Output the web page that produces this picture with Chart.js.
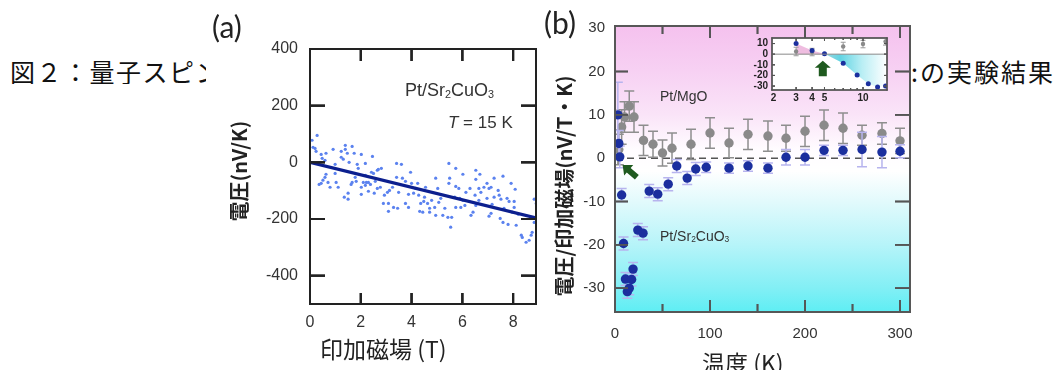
<!DOCTYPE html>
<html><head><meta charset="utf-8">
<script src="https://cdn.jsdelivr.net/npm/chart.js@4.4.1/dist/chart.umd.min.js"></script>
<style>
html,body{margin:0;padding:0;background:#fff;width:1057px;height:370px;overflow:hidden;}
body{position:relative;font-family:"Noto Sans CJK JP","Noto Sans",sans-serif;color:#222;}
.abs{position:absolute;white-space:nowrap;line-height:1;}
.rot{position:absolute;white-space:nowrap;line-height:1;transform:translate(-50%,-50%) rotate(-90deg);font-weight:bold;}
.lat{font-family:"Liberation Sans",Arial,sans-serif;color:#333;}
canvas{position:absolute;}
sub{font-size:60%;vertical-align:-0.15em;line-height:0;}
</style></head><body>
<div class="abs" style="left:10px;top:59px;width:196px;overflow:hidden;font-size:25px;letter-spacing:1.5px;color:#111">図２：量子スピン</div>
<div class="abs" style="left:911px;top:59px;font-size:25px;letter-spacing:2px;color:#111">:の実験結果</div>

<canvas id="ca" width="330" height="330" style="left:220px;top:40px;width:330px;height:330px"></canvas>
<canvas id="cb" width="360" height="354" style="left:560px;top:16px;width:360px;height:354px"></canvas>
<canvas id="cc" width="160" height="76" style="left:735px;top:32px;width:160px;height:76px"></canvas>

<div class="abs" style="left:212px;top:11px;font-size:30px;font-family:Lato,'Open Sans',sans-serif;color:#222">(a)</div>
<div class="abs" style="left:544px;top:7px;font-size:30px;font-family:Lato,'Open Sans',sans-serif;color:#222">(b)</div>
<div class="rot" style="left:239px;top:171px;font-size:20px;">電圧(nV/K)</div>
<div class="rot" style="left:564px;top:186px;font-size:20px;">電圧/印加磁場(nV/T・K)</div>
<div class="abs" style="left:320px;top:337px;font-size:23px;">印加磁場 (T)</div>
<div class="abs" style="left:702px;top:351px;font-size:23px;">温度 (K)</div>
<div class="abs lat" style="left:405px;top:81px;font-size:18px;">Pt/Sr<sub>2</sub>CuO<sub>3</sub></div>
<div class="abs lat" style="left:448px;top:114px;font-size:17px;"><i>T</i> = 15 K</div>
<div class="abs lat" style="left:660px;top:89px;font-size:14px;">Pt/MgO</div>
<div class="abs lat" style="left:660px;top:229px;font-size:14px;">Pt/Sr<sub>2</sub>CuO<sub>3</sub></div>

<script>
// ---------- Panel (a): voltage vs applied field at T = 15 K ----------
const aField = [0.08,0.28,0.12,0.2,0.24,0.44,0.48,0.63,0.59,0.91,1.23,1.39,1.39,1.66,1.47,1.74,1.23,1.31,1.54,2.02,1.86,2.18,0.99,0.63,0.59,0.51,0.36,0.44,0.71,0.79,1.03,1.11,0.99,1.62,1.66,1.82,2.02,2.1,2.22,2.02,1.5,1.35,1.5,1.9,2.18,1.78,
 2.46,2.42,2.5,2.65,2.69,2.81,2.3,2.38,2.57,2.65,2.77,2.53,2.93,3.05,3.13,2.89,3.09,3.09,3.29,3.45,3.25,3.49,3.41,3.6,3.41,3.64,3.76,3.96,4.0,3.88,4.24,4.08,4.28,3.76,3.88,4.36,4.48,4.32,4.44,4.16,2.18,2.3,
 5.47,5.74,4.95,5.5,6.02,6.53,6.53,6.69,4.55,5.03,5.47,5.74,5.86,6.3,6.14,6.5,6.65,4.51,4.63,4.79,4.71,4.91,5.07,5.15,5.31,5.23,5.43,5.58,5.54,5.74,5.94,6.1,6.02,6.34,6.42,6.53,4.71,4.95,5.7,5.9,
 7.25,7.6,6.85,6.97,7.05,7.13,7.41,7.92,8.08,6.73,6.65,6.97,7.25,7.45,7.52,7.76,7.84,8.04,7.17,7.13,7.05,7.49,7.6,7.8,7.64,8.04,8.12,8.32,8.36,8.51,8.63,8.71,8.75,8.83,8.91,8.83,8.2,7.96];
const aVolt = [78,95,53,49,39,28,14,32,7,46,39,60,46,56,32,32,18,11,0,28,-7,-4,-7,-42,-53,-63,-78,-74,-71,-88,-71,-88,-39,-78,-71,-67,-88,-71,-71,-113,-109,-123,-130,-21,-46,-53,
 21,-35,-39,-28,-25,-21,-71,-78,-67,-92,-88,-109,-116,-106,-99,-145,-145,-173,-159,-162,-88,-106,-4,-7,-53,-56,-67,-35,-74,-113,-74,-109,-116,-145,-159,-145,-138,-173,-176,-92,-81,-102,
 -4,-21,-56,-56,-42,-28,-60,-42,-88,-92,-74,-85,-92,-92,-106,-116,-92,-123,-145,-134,-162,-159,-141,-127,-162,-187,-194,-194,-229,-159,-159,-152,-134,-187,-176,-152,-176,-187,-123,-127,
 -56,-49,-88,-74,-92,-88,-99,-74,-95,-106,-134,-127,-123,-116,-130,-127,-138,-138,-148,-180,-190,-198,-212,-219,-162,-159,-222,-257,-265,-282,-275,-257,-247,-130,-145,-212,-183,-176];
const aFitField = [0, 8.9];
const aFitVolt = [0, -196];
const aXTicks = [0, 2, 4, 6, 8];
const aYTicks = [-400, -200, 0, 200, 400];

// ---------- Panel (b): voltage / field vs temperature ----------
const bSrTemp = [3,4,5,7,9,11,13,15,17.5,19,24,29.5,36,45,56,65,76,85,96,120,140,161,180,200,220,240,260,281,300];
const bSrVal  = [10,3.4,0.3,-8.5,-19.7,-27.9,-30.8,-30,-28,-25.6,-16.6,-17.3,-7.6,-8.3,-6,-1.8,-4.6,-2.5,-2.1,-2.3,-1.8,-2.3,0.2,0.2,1.8,1.8,2,1.4,1.6];
const bSrErr  = [7.5,3,2.5,1.5,1.5,1.5,1.5,1.5,1.5,1.5,1.5,1.5,1.5,1.5,1.5,1.5,1.5,1.5,1.2,1.2,1.2,1.2,1.8,1.8,1.2,1.2,4,3.6,1.5];
const bMgTemp = [3,4,7,10,15,20,30,40,50,60,80,100,120,140,161,180,200,220,240,260,281,300];
const bMgVal  = [2.5,2,7.2,9.5,12,9.5,4.1,3.2,1.2,2.3,3.2,5.8,3.5,5.5,5.1,4.6,6.2,7.6,6.9,5.3,5.7,4];
const bMgErr  = [4,3.5,4,3.5,3.5,3.5,3.5,3,3,3.5,3.5,3.5,3.4,3.5,3.5,3,3.5,3.5,3.5,2.3,2.5,2.9];
const bXTicks = [0, 100, 200, 300];
const bXMinor = [50, 150, 250];
const bYTicks = [-30, -20, -10, 0, 10, 20, 30];
const bArrow = [[23, -4.4], [8, -1.6]];

// ---------- Inset (log temperature) ----------
const insetMaxT = 15.4;
const insetXTicks = [2, 3, 4, 5, 10];
const insetXMinor = [6, 7, 8, 9];
const insetYTicks = [-30, -20, -10, 0, 10];
const insetSplitT = 5;
const insetArrow = [[4.85, -20.7], [4.85, -6.2]];

const pts = (xs, ys) => xs.map((v, i) => ({x: v, y: ys[i]}));
const TICKFONT = "'Liberation Sans', Arial, sans-serif";

const FRAME = {
  ca: {color: '#222222', width: 2, yMarks: [-400, -200, 0, 200], yLen: [15, 15], xMarks: [2, 4, 6, 8], xLen: [11, 12]},
  cb: {color: '#555555', width: 1.5,
       bgStops: [[30.5, '#f5c1ee'], [20, '#f7d1f3'], [10, '#fae4f8'], [2, '#fffcff'], [-3, '#ffffff'], [-10, '#e2fafc'], [-20, '#b6f4f9'], [-30, '#82eff5'], [-35.5, '#5eeef4']],
       zeroDash: [7, 5], zeroColor: '#555555', zeroWidth: 1.5,
       arrow: {pts: bArrow, color: '#1f5a1f', shaft: 6, head: 14, headLen: 8},
       yMarks: [-30, -20, -10, 10, 20], yLen: [13, 15], xMarks: [100, 200, 300], xLen: [12, 12], xMinor: bXMinor, xMinorLen: 8},
  cc: {color: '#555555', width: 1, bg: '#ffffff', zeroSolid: '#8a8a8a',
       arrow: {pts: insetArrow, color: '#1f5a1f', shaft: 8, head: 16, headLen: 7},
       yMarks: insetYTicks, yLen: [3, 3], xMarks: [3, 4, 5, 10], xLen: [3, 3], xMinor: insetXMinor, xMinorLen: 2}
};

function paintBox(c) {
  const o = FRAME[c.canvas.id]; if (!o) return;
  const ctx = c.ctx, a = c.chartArea, sx = c.scales.x, sy = c.scales.y;
  const lw = o.width, hw = lw / 2;
  ctx.save();
  ctx.fillStyle = o.color;
  ctx.fillRect(a.left - hw, a.top - hw, a.right - a.left + lw, lw);
  ctx.fillRect(a.left - hw, a.bottom - hw, a.right - a.left + lw, lw);
  ctx.fillRect(a.left - hw, a.top - hw, lw, a.bottom - a.top + lw);
  ctx.fillRect(a.right - hw, a.top - hw, lw, a.bottom - a.top + lw);
  o.yMarks.forEach(v => {
    const py = sy.getPixelForValue(v);
    ctx.fillRect(a.left, py - hw, o.yLen[0], lw);
    ctx.fillRect(a.right - o.yLen[1], py - hw, o.yLen[1], lw);
  });
  o.xMarks.forEach(v => {
    const px = sx.getPixelForValue(v);
    ctx.fillRect(px - hw, a.bottom - o.xLen[0], lw, o.xLen[0]);
    ctx.fillRect(px - hw, a.top, lw, o.xLen[1]);
  });
  (o.xMinor || []).forEach(v => {
    const px = sx.getPixelForValue(v);
    ctx.fillRect(px - hw, a.bottom - o.xMinorLen, lw, o.xMinorLen);
    ctx.fillRect(px - hw, a.top, lw, o.xMinorLen);
  });
  ctx.restore();
}

const bgPlugin = {
  id: 'bgp',
  beforeDraw(c) {
    const o = FRAME[c.canvas.id]; if (!o || !c.chartArea) return;
    if (!o.bgStops && !o.bg) return;
    const {ctx, chartArea: a} = c, y = c.scales.y;
    ctx.save();
    if (o.bgStops) {
      const g = ctx.createLinearGradient(0, a.top, 0, a.bottom);
      o.bgStops.forEach(([v, col]) => {
        const t = (y.getPixelForValue(v) - a.top) / (a.bottom - a.top);
        g.addColorStop(Math.min(1, Math.max(0, t)), col);
      });
      ctx.fillStyle = g;
    } else ctx.fillStyle = o.bg;
    ctx.fillRect(a.left, a.top, a.right - a.left, a.bottom - a.top);
    ctx.restore();
  }
};
const zeroPlugin = {
  id: 'zerop',
  beforeDatasetsDraw(c) {
    const o = FRAME[c.canvas.id]; if (!o) return;
    const {ctx, chartArea: a} = c;
    if (o.zeroDash) {
      const py = c.scales.y.getPixelForValue(0);
      ctx.save(); ctx.strokeStyle = o.zeroColor; ctx.lineWidth = o.zeroWidth; ctx.setLineDash(o.zeroDash);
      ctx.beginPath(); ctx.moveTo(a.left, py); ctx.lineTo(a.right, py); ctx.stroke(); ctx.restore();
    }
    paintBox(c);
  }
};
const errPlugin = {
  id: 'errp',
  beforeDatasetDraw(c, args) {
    const ds = c.data.datasets[args.index];
    if (!ds.errors) return;
    const {ctx, chartArea: a} = c, x = c.scales.x, y = c.scales.y;
    ctx.save();
    ctx.beginPath(); ctx.rect(a.left, a.top, a.right - a.left, a.bottom - a.top); ctx.clip();
    ctx.strokeStyle = ds.errorColor; ctx.lineWidth = ds.errorWidth;
    ctx.beginPath();
    ds.data.forEach((p, i) => {
      const e = ds.errors[i]; const px = x.getPixelForValue(p.x);
      const y1 = y.getPixelForValue(p.y + e), y2 = y.getPixelForValue(p.y - e);
      ctx.moveTo(px, y1); ctx.lineTo(px, y2);
      ctx.moveTo(px - ds.capHalf, y1); ctx.lineTo(px + ds.capHalf, y1);
      ctx.moveTo(px - ds.capHalf, y2); ctx.lineTo(px + ds.capHalf, y2);
    });
    ctx.stroke(); ctx.restore();
  }
};
const markPlugin = {
  id: 'markp',
  afterDatasetsDraw(c) {
    const o = FRAME[c.canvas.id]; if (!o) return;
    paintBox(c);
    const ctx = c.ctx, a = c.chartArea, sx = c.scales.x, sy = c.scales.y;
    ctx.save();
    if (o.zeroSolid) {
      ctx.fillStyle = o.zeroSolid;
      ctx.fillRect(a.left, sy.getPixelForValue(0) - 0.5, a.right - a.left, 1);
    }
    if (o.arrow) {
      const [[tx, ty], [hx, hy]] = o.arrow.pts;
      const x0 = sx.getPixelForValue(tx), y0 = sy.getPixelForValue(ty);
      const x1 = sx.getPixelForValue(hx), y1 = sy.getPixelForValue(hy);
      const ang = Math.atan2(y1 - y0, x1 - x0), len = Math.hypot(x1 - x0, y1 - y0);
      const sh = o.arrow.shaft, hd = o.arrow.head, hl = o.arrow.headLen;
      ctx.translate(x0, y0); ctx.rotate(ang);
      ctx.fillStyle = o.arrow.color;
      ctx.beginPath();
      ctx.moveTo(0, -sh / 2); ctx.lineTo(len - hl, -sh / 2); ctx.lineTo(len - hl, -hd / 2);
      ctx.lineTo(len, 0); ctx.lineTo(len - hl, hd / 2); ctx.lineTo(len - hl, sh / 2); ctx.lineTo(0, sh / 2);
      ctx.closePath(); ctx.fill();
    }
    ctx.restore();
  },
  afterDraw(c) { paintBox(c); }
};

function axis(opts) {
  const {type, min, max, ticks, fit, isX, pad, font, color} = opts;
  return {
    type: type || 'linear', min, max,
    afterBuildTicks: s => { s.ticks = ticks.map(v => ({value: v})); },
    afterFit: s => {
      if (isX) s.height = fit; else s.width = fit;
      s.paddingTop = 0; s.paddingBottom = 0; s.paddingLeft = 0; s.paddingRight = 0;
    },
    grid: {display: false, drawTicks: false},
    border: {display: false},
    ticks: {padding: pad, font, color, autoSkip: false, maxRotation: 0, callback: v => String(v)}
  };
}
const PLUGS = [bgPlugin, zeroPlugin, errPlugin, markPlugin];

// ----- Chart (a)
new Chart(document.getElementById('ca'), {
  type: 'scatter',
  plugins: PLUGS,
  data: {datasets: [
    {data: pts(aFitField, aFitVolt), showLine: true, borderColor: '#0c1f8e', borderWidth: 3.2, pointRadius: 0, order: 0},
    {data: pts(aField, aVolt), pointRadius: 1.6, backgroundColor: '#5b82ef', borderWidth: 0, order: 1}
  ]},
  options: {responsive: false, animation: false, devicePixelRatio: 1,
    layout: {padding: {top: 9, right: 14, left: 0, bottom: 0}},
    plugins: {legend: {display: false}, tooltip: {enabled: false}},
    scales: {
      x: axis({min: 0, max: 8.9, ticks: aXTicks, fit: 66, isX: true, pad: 9, font: {family: TICKFONT, size: 16}, color: '#333'}),
      y: axis({min: -500, max: 400, ticks: aYTicks, fit: 90, pad: 12, font: {family: TICKFONT, size: 16}, color: '#333'})
    }
  }
});

// ----- Chart (b)
new Chart(document.getElementById('cb'), {
  type: 'scatter',
  plugins: PLUGS,
  data: {datasets: [
    {data: pts(bSrTemp, bSrVal), errors: bSrErr, errorColor: '#b7b4ee', errorWidth: 1.5, capHalf: 5,
     pointRadius: 4.7, backgroundColor: '#1b2f9e', borderWidth: 0, order: 0},
    {data: pts(bMgTemp, bMgVal), errors: bMgErr, errorColor: '#8e8e8e', errorWidth: 1.5, capHalf: 5,
     pointRadius: 4.7, backgroundColor: '#8a8a8a', borderWidth: 0, order: 1}
  ]},
  options: {responsive: false, animation: false, devicePixelRatio: 1,
    layout: {padding: {top: 10, right: 10, left: 0, bottom: 0}},
    plugins: {legend: {display: false}, tooltip: {enabled: false}},
    scales: {
      x: axis({min: 0, max: 310.5, ticks: bXTicks, fit: 58, isX: true, pad: 13, font: {family: TICKFONT, size: 15}, color: '#333'}),
      y: axis({min: -35.5, max: 30.5, ticks: bYTicks, fit: 55, pad: 10, font: {family: TICKFONT, size: 15}, color: '#333'})
    }
  }
});

// ----- Inset
const inBlueT = bSrTemp.filter(t => t <= insetMaxT);
const inBlueV = bSrVal.slice(0, inBlueT.length);
const inGrayT = bMgTemp.filter(t => t <= insetMaxT);
const inGrayV = bMgVal.slice(0, inGrayT.length);
const inGrayE = bMgErr.slice(0, inGrayT.length);
const pinkIdx = inBlueT.map((t, i) => t <= insetSplitT ? i : -1).filter(i => i >= 0);
const cyanIdx = inBlueT.map((t, i) => t >= insetSplitT ? i : -1).filter(i => i >= 0);

new Chart(document.getElementById('cc'), {
  type: 'scatter',
  plugins: PLUGS,
  data: {datasets: [
    {data: pts(inBlueT, inBlueV), pointRadius: 2.5, backgroundColor: '#1b2f9e', borderWidth: 0, order: 0},
    {data: pts(inGrayT, inGrayV), errors: inGrayE, errorColor: '#9a9a9a', errorWidth: 1, capHalf: 2.5,
     pointRadius: 2.2, backgroundColor: '#8a8a8a', borderWidth: 0, order: 1},
    {data: pinkIdx.map(i => ({x: inBlueT[i], y: inBlueV[i]})), showLine: true, fill: 'origin', borderWidth: 0, pointRadius: 0,
     backgroundColor: 'rgba(236,178,218,0.85)', order: 5},
    {data: cyanIdx.map(i => ({x: inBlueT[i], y: inBlueV[i]})), showLine: true, fill: 'origin', borderWidth: 0, pointRadius: 0, order: 6,
     backgroundColor: (ctx) => {
       const c = ctx.chart, a = c.chartArea; if (!a) return 'transparent';
       const g = c.ctx.createLinearGradient(c.scales.x.getPixelForValue(insetSplitT), 0, a.right, 0);
       g.addColorStop(0, '#9fd6de'); g.addColorStop(0.25, '#62d4e3'); g.addColorStop(0.6, '#b9eef4'); g.addColorStop(1, '#ffffff');
       return g;
     }}
  ]},
  options: {responsive: false, animation: false, devicePixelRatio: 1,
    layout: {padding: {top: 6, right: 8, left: 0, bottom: 0}},
    plugins: {legend: {display: false}, tooltip: {enabled: false}},
    scales: {
      x: axis({type: 'logarithmic', min: 1.944, max: insetMaxT, ticks: insetXTicks, fit: 18, isX: true, pad: 2, font: {family: TICKFONT, size: 10, weight: 'bold'}, color: '#222'}),
      y: axis({min: -33.7, max: 15.2, ticks: insetYTicks, fit: 37, pad: 4, font: {family: TICKFONT, size: 10, weight: 'bold'}, color: '#222'})
    }
  }
});
</script>
</body></html>
